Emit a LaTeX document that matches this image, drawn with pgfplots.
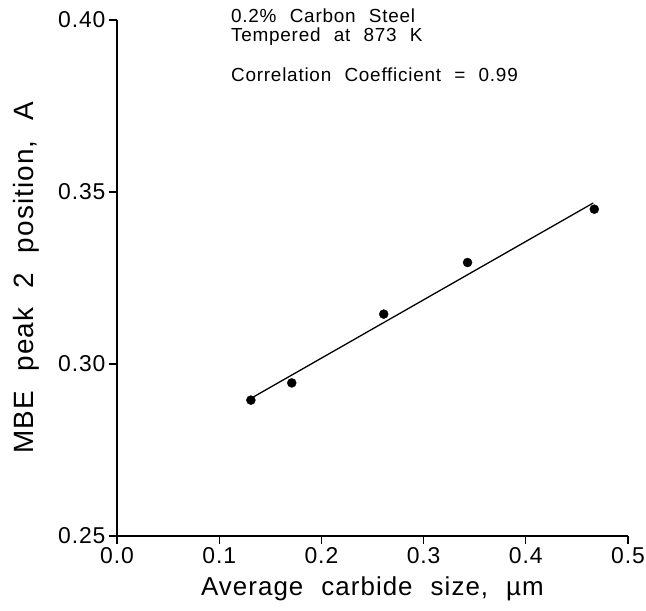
\documentclass[border=0pt]{standalone}
\usepackage{pgfplots}
\pgfplotsset{compat=1.18}
\usepackage{fontspec}
\setmainfont{Liberation Sans}
\newfontfamily\wide[WordSpace=2.2,LetterSpace=4]{Liberation Sans}

\begin{document}
\begin{tikzpicture}[x=1bp,y=1bp]
% frame to keep the page the reference's size (646 x 611 px)
\path[use as bounding box] (-117,-75) rectangle (529,536);
\begin{axis}[
  at={(0,0)}, anchor=origin,
  scale only axis,
  width=511bp, height=516bp,
  xmin=0, xmax=0.5, ymin=0.25, ymax=0.40,
  axis lines*=left,
  axis line style={-, line width=1.1pt},
  xtick={0,0.1,...,0.5}, ytick={0.25,0.30,0.35,0.40},
  tick align=outside, major tick length=8bp,
  tick style={line width=1.1pt, black},
  xticklabel style={/pgf/number format/.cd, fixed, fixed zerofill, precision=1},
  yticklabel style={/pgf/number format/.cd, fixed, fixed zerofill, precision=2},
  /pgf/number format/assume math mode=true,
  tick label style={font=\wide\fontsize{23}{25}\selectfont},
  xlabel={Average carbide size, \textmu m},
  ylabel={MBE peak 2 position, A},
  xlabel style={font=\wide\fontsize{26}{28}\selectfont, yshift=-6bp},
  ylabel style={font=\wide\fontsize{28}{30}\selectfont, yshift=12bp},
  clip=false,
]
\addplot[only marks, mark=*, mark size=4.5bp, black] coordinates {
  (0.131,0.2895) (0.171,0.2945) (0.261,0.3145) (0.343,0.3295) (0.467,0.3450)
};
\addplot[no marks, black, line width=1.3pt] coordinates {
  (0.131,0.2900) (0.466,0.3468)
};
\node[anchor=base west, inner sep=0pt, font=\wide\fontsize{19}{19}\selectfont]
  at (axis cs:0.1115,0.3993) {0.2\% Carbon Steel};
\node[anchor=base west, inner sep=0pt, font=\wide\fontsize{19}{19}\selectfont]
  at (axis cs:0.1115,0.3938) {Tempered at 873 K};
\node[anchor=base west, inner sep=0pt, font=\wide\fontsize{19}{19}\selectfont]
  at (axis cs:0.1115,0.3820) {Correlation Coefficient = 0.99};
\end{axis}
\end{tikzpicture}
\end{document}
